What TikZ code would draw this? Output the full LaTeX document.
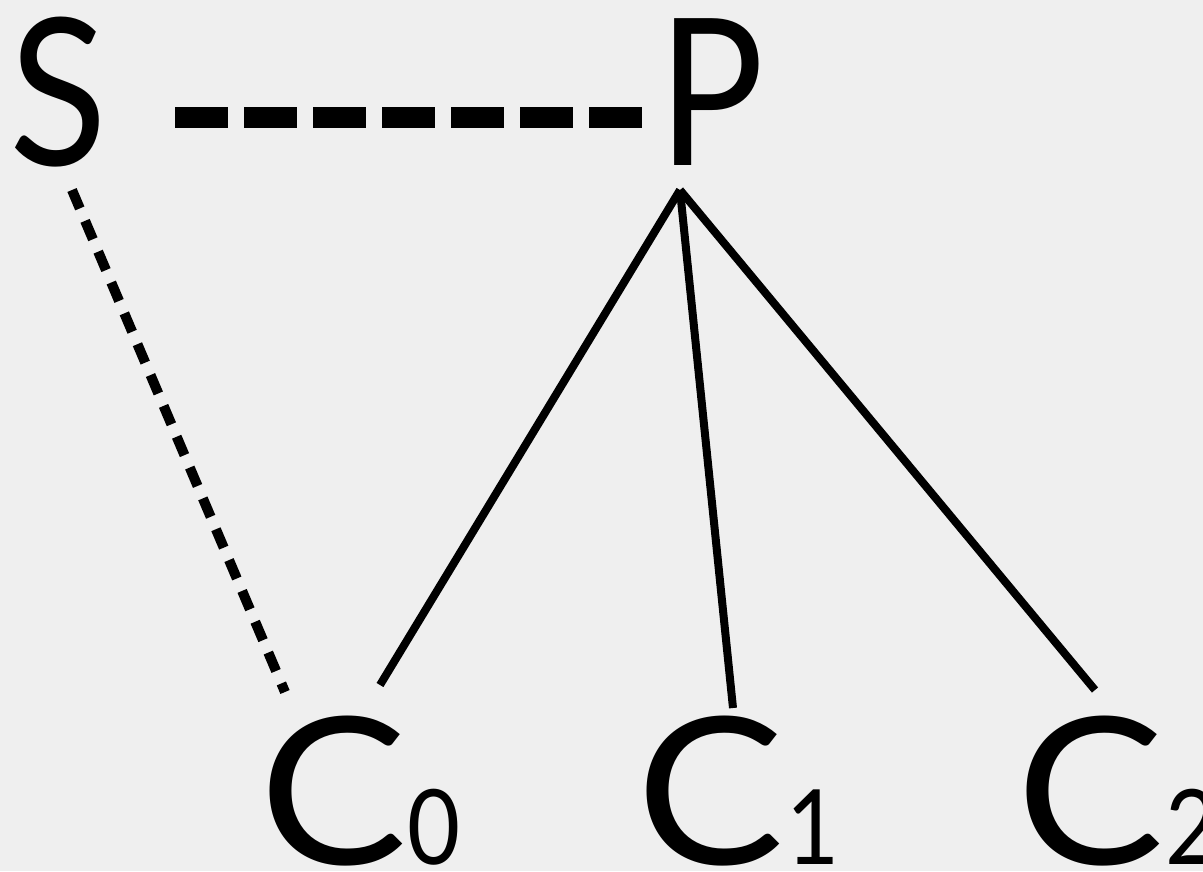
\documentclass[tikz,border=0pt]{standalone}
\usepackage{fontspec}
\setmainfont{Lato}
\definecolor{bg}{HTML}{EFEFEF}
\newcommand{\sx}[2]{\scalebox{#1}[1]{#2}}
\begin{document}
\begin{tikzpicture}[x=1pt,y=-1pt,
  big/.style={inner sep=0pt,outer sep=0pt,anchor=base,font=\fontsize{205}{205}\selectfont},
  sub/.style={inner sep=0pt,outer sep=0pt,anchor=base,font=\fontsize{104}{104}\selectfont},
  hdash/.style={line width=21pt,dash pattern=on 53pt off 16pt},
  dotline/.style={line width=10pt,dash pattern=on 20pt off 13.5pt},
  edge/.style={line width=8pt}]
\fill[bg] (0,0) rectangle (1203,871);
\useasboundingbox (0,0) rectangle (1203,871);
\node[big] (S) at (58,165) {\sx{0.88}{S}};
\node[big] (P) at (711,165) {\sx{0.86}{P}};
\node[big] (C0) at (333,864) {\sx{1.08}{C}};
\node[sub] (s0) at (434,864) {\sx{0.88}{0}};
\node[big] (C1) at (710,864) {\sx{1.08}{C}};
\node[sub] (s1) at (813,864) {\sx{0.88}{1}};
\node[big] (C2) at (1090,864) {\sx{1.08}{C}};
\node[sub] (s2) at (1192,864) {\sx{0.88}{2}};
\coordinate (hs) at (175,117.5);
\coordinate (he) at (643,117.5);
\coordinate (apex) at (680,190);
\coordinate (ds) at (72,190);
\coordinate (de) at (285,692);
\coordinate (c0t) at (380,685);
\coordinate (c1t) at (733,708);
\coordinate (c2t) at (1095,690);
\draw[hdash] (hs) -- (he);
\draw[dotline] (ds) -- (de);
\draw[edge] (apex) -- (c0t);
\draw[edge] (apex) -- (c1t);
\draw[edge] (apex) -- (c2t);
\end{tikzpicture}
\end{document}
